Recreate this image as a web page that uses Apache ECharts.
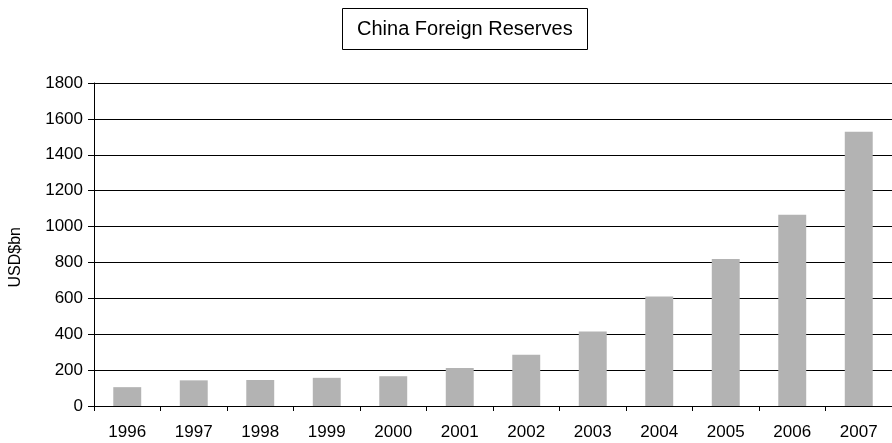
<!DOCTYPE html>
<html>
<head>
<meta charset="utf-8">
<script src="https://cdn.jsdelivr.net/npm/echarts@6/dist/echarts.min.js"></script>
<style>
html,body{margin:0;padding:0;background:#fff;}
#chart{width:892px;height:443px;}
</style>
</head>
<body>
<div id="chart"></div>
<script>
const years = ['1996','1997','1998','1999','2000','2001','2002','2003','2004','2005','2006','2007'];
const reserves = [105, 143, 145, 157, 166, 212, 286, 415, 610, 819, 1066, 1528];
const titleText = 'China Foreign Reserves';
const yAxisName = 'USD$bn';

const chart = echarts.init(document.getElementById('chart'), null, {renderer: 'canvas'});
const FONT = '"Liberation Sans", Arial, Helvetica, sans-serif';
chart.setOption({
  animation: false,
  backgroundColor: '#fff',
  title: {
    text: titleText,
    left: 342,
    top: 8,
    padding: [11, 15, 11, 15],
    borderColor: '#000',
    borderWidth: 1,
    textStyle: {fontFamily: FONT, fontSize: 20, fontWeight: 'normal', color: '#000'}
  },
  grid: {left: 94, right: 0, top: 83, bottom: 37, containLabel: false},
  graphic: [{
    type: 'text',
    left: 8,
    top: 227,
    rotation: Math.PI / 2,
    style: {text: yAxisName, font: '16px ' + FONT, fill: '#000'}
  }],
  xAxis: {
    type: 'category',
    data: years,
    boundaryGap: true,
    axisLine: {show: true, lineStyle: {color: '#000', width: 1}},
    axisTick: {show: true, length: 5, alignWithLabel: false, lineStyle: {color: '#000'}},
    axisLabel: {margin: 18, fontFamily: FONT, fontSize: 17, color: '#000', interval: 0},
    splitLine: {show: false}
  },
  yAxis: {
    type: 'value',
    min: 0,
    max: 1800,
    interval: 200,
    axisLine: {show: true, lineStyle: {color: '#000', width: 1}},
    axisTick: {show: true, length: 6, lineStyle: {color: '#000'}},
    axisLabel: {margin: 11, fontFamily: FONT, fontSize: 17, color: '#000', formatter: function (v) { return String(v); }},
    splitLine: {show: true, lineStyle: {color: '#000', width: 1}}
  },
  series: [{
    type: 'bar',
    data: reserves,
    barWidth: '42%',
    itemStyle: {color: '#b3b3b3'}
  }]
});
</script>
</body>
</html>
